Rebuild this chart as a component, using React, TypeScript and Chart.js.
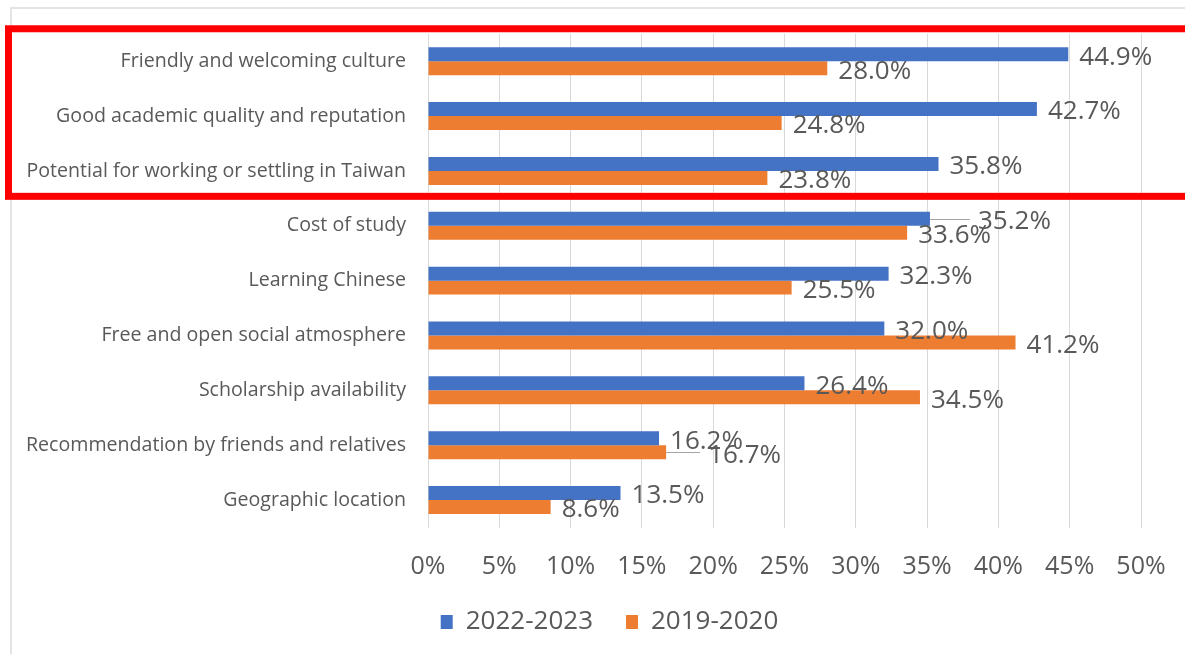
import React, { useEffect, useRef } from "react";
import { Chart, registerables } from "chart.js";

Chart.register(...registerables);

const categories = [
  "Friendly and welcoming culture",
  "Good academic quality and reputation",
  "Potential for working or settling in Taiwan",
  "Cost of study",
  "Learning Chinese",
  "Free and open social atmosphere",
  "Scholarship availability",
  "Recommendation by friends and relatives",
  "Geographic location",
];
const series2022 = [44.9, 42.7, 35.8, 35.2, 32.3, 32.0, 26.4, 16.2, 13.5];
const series2019 = [28.0, 24.8, 23.8, 33.6, 25.5, 41.2, 34.5, 16.7, 8.6];
const seriesNames = ["2022-2023", "2019-2020"];
const xMin = 0;
const xMax = 50;
const xStep = 5;
const highlightFirst = 0;
const highlightLast = 2;

const FONT = "'Open Sans', 'Noto Sans', sans-serif";
const TEXT = "#595959";
const BLUE = "#4472C4";
const ORANGE = "#ED7D31";

export default function App() {
  const ref = useRef<HTMLCanvasElement>(null);

  useEffect(() => {
    document.body.style.margin = "0";
    const canvas = ref.current;
    if (!canvas) return;

    const frame = {
      id: "frame",
      beforeDraw(chart: any) {
        const c = chart.ctx;
        c.save();
        c.fillStyle = "#ffffff";
        c.fillRect(0, 0, chart.width, chart.height);
        c.strokeStyle = "#E4E4E4";
        c.lineWidth = 2;
        c.beginPath();
        c.moveTo(11, chart.height);
        c.lineTo(11, 8);
        c.lineTo(chart.width, 8);
        c.stroke();
        c.restore();
      },
    };

    const labelShifts = [
      { dataset: 0, index: 3, dx: 48 },
      { dataset: 1, index: 7, dx: 42 },
    ];

    const barLabels = {
      id: "barLabels",
      afterDatasetsDraw(chart: any) {
        const c = chart.ctx;
        c.save();
        c.font = `26px ${FONT}`;
        c.fillStyle = TEXT;
        c.textAlign = "left";
        c.textBaseline = "middle";
        chart.data.datasets.forEach((ds: any, di: number) => {
          const meta = chart.getDatasetMeta(di);
          meta.data.forEach((bar: any, i: number) => {
            const v = ds.data[i];
            const s = labelShifts.find((q) => q.dataset === di && q.index === i);
            const dx = s ? s.dx : 11;
            const x = bar.x + dx;
            if (s) {
              c.save();
              c.strokeStyle = "#A6A6A6";
              c.lineWidth = 1;
              c.beginPath();
              c.moveTo(bar.x, Math.round(bar.y) + 0.5);
              c.lineTo(x - 8, Math.round(bar.y) + 0.5);
              c.stroke();
              c.restore();
            }
            c.fillText(v.toFixed(1) + "%", x, bar.y + 3);
          });
        });
        c.restore();
      },
    };

    const highlight = {
      id: "highlight",
      afterDraw(chart: any) {
        const ys = chart.scales.y;
        const step = ys.getPixelForValue(1) - ys.getPixelForValue(0);
        const top = ys.getPixelForValue(highlightFirst) - step / 2 - 5;
        const bottom = ys.getPixelForValue(highlightLast) + step / 2 - 2;
        const c = chart.ctx;
        c.save();
        c.strokeStyle = "#FF0000";
        c.lineWidth = 7;
        c.strokeRect(8.5, top, chart.width + 20, bottom - top);
        c.restore();
      },
    };

    const legendShift = {
      id: "legendShift",
      afterLayout(chart: any) {
        const lg = chart.legend;
        if (lg) {
          lg.left += 39;
          lg.right += 39;
        }
      },
    };

    const chart = new Chart(canvas, {
      type: "bar",
      data: {
        labels: categories,
        datasets: [
          {
            label: seriesNames[0],
            data: series2022,
            backgroundColor: BLUE,
            categoryPercentage: 0.51,
            barPercentage: 1,
          },
          {
            label: seriesNames[1],
            data: series2019,
            backgroundColor: ORANGE,
            categoryPercentage: 0.51,
            barPercentage: 1,
          },
        ],
      },
      options: {
        indexAxis: "y",
        responsive: false,
        animation: false,
        layout: { padding: { top: 33.5, right: 44, bottom: 9, left: 0 } },
        plugins: {
          legend: {
            display: true,
            position: "bottom",
            labels: {
              font: { family: FONT, size: 26 },
              color: TEXT,
              boxWidth: 12,
              boxHeight: 14,
              padding: 33,
            },
          },
          tooltip: { enabled: false },
        },
        scales: {
          x: {
            min: xMin,
            max: xMax,
            ticks: {
              stepSize: xStep,
              callback: (v: any) => v + "%",
              font: { family: FONT, size: 25 },
              color: TEXT,
              padding: 24.5,
            },
            grid: { color: "#D9D9D9", drawTicks: false, lineWidth: 1 },
            border: { display: false },
            afterFit(scale: any) {
              scale.height = 48.5;
              scale.paddingLeft = 0;
              scale.paddingRight = 0;
            },
          },
          y: {
            ticks: {
              font: { family: FONT, size: 19.6 },
              color: TEXT,
              padding: 22,
            },
            grid: { display: false, drawTicks: false },
            border: { display: false },
            afterFit(scale: any) {
              scale.width = 428;
            },
          },
        },
      },
      plugins: [frame, barLabels, highlight, legendShift],
    } as any);

    return () => chart.destroy();
  }, []);

  return (
    <div style={{ width: 1185, height: 654, position: "relative" }}>
      <canvas ref={ref} width={1185} height={654} style={{ display: "block" }} />
    </div>
  );
}
